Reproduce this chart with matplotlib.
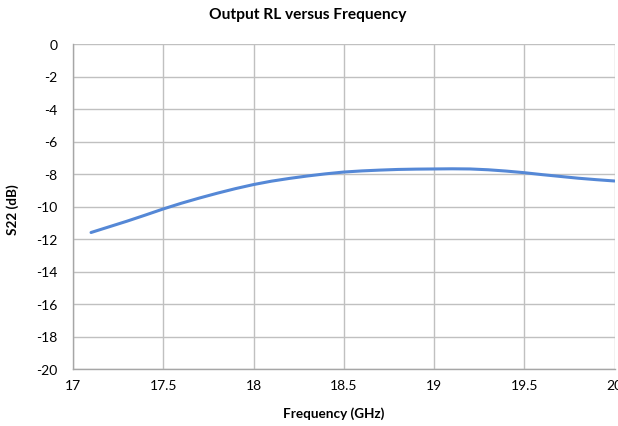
import matplotlib
matplotlib.use("Agg")
import matplotlib.pyplot as plt

freq_ghz = [17.1, 17.2, 17.3, 17.4, 17.5, 17.6, 17.7, 17.8, 17.9, 18.0,
            18.1, 18.2, 18.3, 18.4, 18.5, 18.6, 18.7, 18.8, 18.9, 19.0,
            19.1, 19.2, 19.3, 19.4, 19.5, 19.6, 19.7, 19.8, 19.9, 20.0]
s22_db = [-11.6, -11.25, -10.9, -10.53, -10.15, -9.8, -9.48, -9.18, -8.9, -8.65,
          -8.44, -8.27, -8.12, -7.99, -7.88, -7.81, -7.76, -7.72, -7.70, -7.69,
          -7.68, -7.69, -7.74, -7.82, -7.92, -8.04, -8.15, -8.26, -8.35, -8.43]
x_ticks = [17, 17.5, 18, 18.5, 19, 19.5, 20]
x_tick_labels = ["17", "17.5", "18", "18.5", "19", "19.5", "20"]
y_ticks = list(range(-20, 1, 2))

plt.rcParams['font.family'] = ['Lato', 'DejaVu Sans']

W, H = 618, 427
fig = plt.figure(figsize=(W/100, H/100), dpi=100)
ax = fig.add_axes([73/W, 57/H, (614.5-73)/W, (370-45)/H])

ax.plot(freq_ghz, s22_db, color='#5588d6', linewidth=2.2, solid_capstyle='round')

ax.set_xlim(17, 20)
ax.set_ylim(-20, 0)
ax.set_xticks(x_ticks)
ax.set_xticklabels(x_tick_labels)
ax.set_yticks(y_ticks)
ax.set_yticklabels([str(v) for v in y_ticks])
ax.grid(True, color='#c0c0c0', linewidth=1.0)
ax.set_axisbelow(True)
for s in ['top', 'right']:
    ax.spines[s].set_visible(False)
for s in ['left', 'bottom']:
    ax.spines[s].set_color('#a6a6a6')
    ax.spines[s].set_linewidth(1.0)
ax.tick_params(axis='both', length=0, labelsize=10, colors='#000000')
ax.tick_params(axis='y', pad=11)
ax.tick_params(axis='x', pad=7)

fig.text(308/W, 1 - 15/H, 'Output RL versus Frequency', fontsize=11.2,
         fontweight='bold', ha='center', va='center')
fig.text(334/W, 1 - 414/H, 'Frequency (GHz)', fontsize=9.7,
         fontweight='bold', ha='center', va='center')
fig.text(13/W, 1 - 210/H, 'S22 (dB)', fontsize=9.7, fontweight='bold',
         ha='center', va='center', rotation=90)

fig.savefig('out.png', dpi=100)
